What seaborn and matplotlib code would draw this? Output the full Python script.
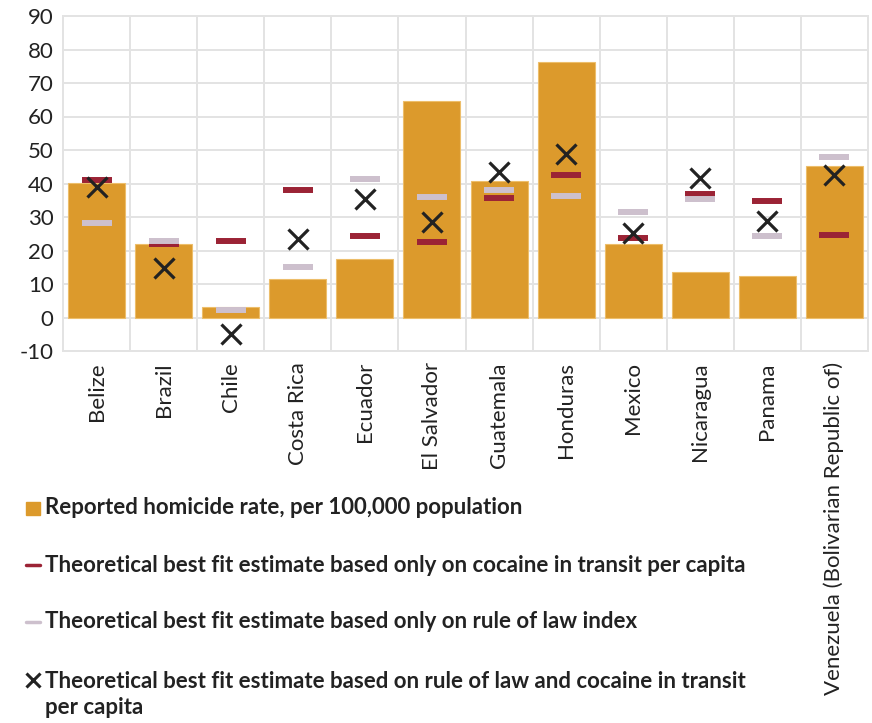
import matplotlib
matplotlib.use("Agg")
import matplotlib.pyplot as plt
import seaborn as sns
import pandas as pd
import numpy as np
from matplotlib.lines import Line2D
from matplotlib.patches import Rectangle

countries = ["Belize", "Brazil", "Chile", "Costa Rica", "Ecuador", "El Salvador",
             "Guatemala", "Honduras", "Mexico", "Nicaragua", "Panama",
             "Venezuela (Bolivarian Republic of)"]
homicide_rate = [40.1, 21.9, 3.2, 11.6, 17.5, 64.7, 40.7, 76.2, 21.9, 13.6, 12.5, 45.1]
fit_cocaine = [41.0, 22.0, 22.9, 38.0, 24.4, 22.6, 35.8, 42.6, 23.8, 36.8, 34.9, 24.7]
fit_rule_of_law = [28.3, 22.9, 2.2, 15.1, 41.4, 36.1, 38.1, 36.4, 31.5, 35.5, 24.4, 48.0]
fit_combined = [39.0, 14.9, -5.0, 23.3, 35.5, 28.6, 43.4, 48.7, 25.3, 41.5, 28.8, 42.4]
y_ticks = [-10, 0, 10, 20, 30, 40, 50, 60, 70, 80, 90]

legend_labels = [
    "Reported homicide rate, per 100,000 population",
    "Theoretical best fit estimate based only on cocaine in transit per capita",
    "Theoretical best fit estimate based only on rule of law index",
    "Theoretical best fit estimate based on rule of law and cocaine in transit\nper capita",
]

BAR = "#DC9A2C"
RED = "#9B2335"
GREY = "#CDC0CD"
GRID = "#E3E3E3"

sns.set_style("white")
plt.rcParams["font.family"] = ["Lato", "DejaVu Sans"]

df = pd.DataFrame({"country": countries, "homicide": homicide_rate,
                   "cocaine": fit_cocaine, "law": fit_rule_of_law,
                   "combined": fit_combined})

fig = plt.figure(figsize=(8.72, 7.23), dpi=100)
ax = fig.add_axes([63.3 / 872, 1 - 351 / 723, (867.7 - 63.3) / 872, (351 - 16) / 723])

sns.barplot(data=df, x="country", y="homicide", color=BAR, width=0.85,
            edgecolor="#EDBE6A", linewidth=0.8, saturation=1, ax=ax, zorder=2)

xpos = np.arange(len(countries))
ax.plot(xpos, df["cocaine"], linestyle="none", marker="_", markersize=21.6,
        markeredgewidth=4.3, color=RED, zorder=3)
ax.plot(xpos, df["law"], linestyle="none", marker="_", markersize=21.6,
        markeredgewidth=4.3, color=GREY, zorder=4)
ax.plot(xpos, df["combined"], linestyle="none", marker="x", markersize=14,
        markeredgewidth=2.3, color="#222222", zorder=5)

ax.set_ylim(-10, 90)
ax.set_xlim(-0.5, len(countries) - 0.5)
ax.set_yticks(y_ticks)
ax.set_yticklabels([str(v) for v in y_ticks], fontsize=16, color="#222222")
ax.set_xticks(xpos)
ax.set_xticklabels(countries, rotation=90, fontsize=16, color="#222222")
ax.tick_params(axis="both", length=0)
ax.tick_params(axis="x", pad=8)
ax.tick_params(axis="y", pad=7)
ax.set_xlabel("")
ax.set_ylabel("")

ax.set_xticks(np.arange(-0.5, len(countries), 1), minor=True)
ax.tick_params(axis="x", which="minor", length=0)
ax.grid(False)
ax.yaxis.grid(True, color=GRID, linewidth=1.4, zorder=0)
ax.xaxis.grid(True, which="minor", color=GRID, linewidth=1.4, zorder=0)
ax.set_axisbelow(True)
for s in ax.spines.values():
    s.set_color(GRID)
    s.set_linewidth(1.4)

# legend (manual layout under the chart)
def fx(px):
    return px / 872

def fy(py):
    return 1 - py / 723

lfs = 16
fig.patches.append(Rectangle((fx(26), fy(515)), fx(14), 13 / 723, color=BAR,
                             transform=fig.transFigure, figure=fig))
fig.lines.append(Line2D([fx(26), fx(40)], [fy(565), fy(565)], color=RED, lw=2.5,
                        transform=fig.transFigure, figure=fig))
fig.lines.append(Line2D([fx(26), fx(40)], [fy(622), fy(622)], color=GREY, lw=2.5,
                        transform=fig.transFigure, figure=fig))
fig.lines.append(Line2D([fx(33)], [fy(680)], marker="x", markersize=10,
                        markeredgewidth=2.2, color="#222222", linestyle="none",
                        transform=fig.transFigure, figure=fig))
for lab, yc in zip(legend_labels, [508, 565, 622, 694.5]):
    fig.text(fx(45), fy(yc), lab, fontsize=lfs, fontweight="bold", color="#222222",
             va="center", linespacing=1.25)

fig.savefig("out.png", dpi=100)
